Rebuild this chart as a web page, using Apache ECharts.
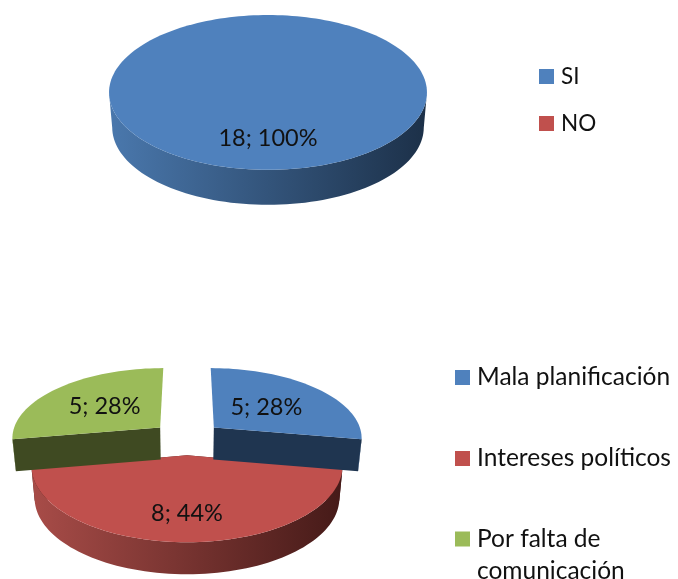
<!DOCTYPE html>
<html>
	<head>
		<meta charset="utf-8">
		<title>Pie charts</title>
		<script src="https://cdn.jsdelivr.net/npm/echarts@6/dist/echarts.min.js"></script>
		<style type="text/css">
			html, body { margin: 0; padding: 0; background: #fff; }
			#main { width: 678px; height: 579px; }
		</style>
	</head>
	<body>
		<div id="main"></div>
		<script type="text/javascript">
			// data
			var topCategories = ['SI', 'NO'];
			var topValues = [18, 0];
			var bottomCategories = ['Mala planificación', 'Intereses políticos', 'Por falta de comunicación'];
			var bottomValues = [5, 8, 5];

			var palette = [
				{ top: '#4f81bd', wall: '#1f3550', from: '#4a78ad', to: '#1c3048' },
				{ top: '#c0504d', wall: '#4a1c1a', from: '#a84c48', to: '#451a18' },
				{ top: '#9bbb59', wall: '#3f4a22', from: '#7f9a48', to: '#3f4a22' }
			];

			// pie placement: ry is the plane height, p the perspective, gap the explode distance
			var topPie = { cx: 268, cy: 82, rx: 157.5, ry: 76, p: 0.135, gap: 0, depth: 35, labelR: [0.66, 0] };
			var bottomPie = { cx: 187, cy: 438, rx: 149, ry: 70, p: 0.135, gap: 0.24, depth: 32, labelR: [0.5, 0.69, 0.53] };

			var FONT = 'Lato, "Open Sans", sans-serif';
			var STEP = Math.PI / 90;

			function project(pie, u, v) {
				var w = 1 + pie.p * v;
				return [pie.cx + pie.rx * u / w, pie.cy - pie.ry * v / w];
			}

			// point of a slice, theta runs clockwise from 12 o'clock
			function slicePoint(pie, mid, r, theta) {
				var u = pie.gap * Math.sin(mid) + r * Math.sin(theta);
				var v = pie.gap * Math.cos(mid) + r * Math.cos(theta);
				return project(pie, u, v);
			}

			function extrude(pie, pt) {
				return [pie.cx + (pt[0] - pie.cx) * 0.98, pt[1] + pie.depth];
			}

			function quad(pie, a, b, color) {
				return {
					type: 'polygon',
					shape: { points: [a, b, extrude(pie, b), extrude(pie, a)] },
					style: { fill: color }
				};
			}

			function sliceRenderer(pie, values, index) {
				return function(params, api) {
					var value = api.value(0);
					if (!value) return null;
					var total = values.reduce(function(a, b) { return a + b; }, 0);
					var before = values.slice(0, index).reduce(function(a, b) { return a + b; }, 0);
					var start = before / total * Math.PI * 2;
					var end = (before + value) / total * Math.PI * 2;
					var mid = (start + end) / 2;
					var colors = palette[index];
					var whole = value === total;
					var gap = whole ? 0 : pie.gap;
					var slice = { cx: pie.cx, cy: pie.cy, rx: pie.rx, ry: pie.ry, p: pie.p, gap: gap, depth: pie.depth };

					var rim = [];
					var front = [];
					for (var t = start; t < end; t += STEP) {
						var pt = slicePoint(slice, mid, 1, t);
						rim.push(pt);
						if (Math.cos(t) < -pie.p) front.push(pt);
					}
					var last = slicePoint(slice, mid, 1, end);
					rim.push(last);
					if (Math.cos(end) < -pie.p) front.push(last);

					var children = [];
					var apex = slicePoint(slice, mid, 0, 0);
					if (!whole) {
						// only the cut faces turned to the viewer
						if (Math.cos(start) < 0) children.push(quad(slice, apex, rim[0], colors.wall));
						if (Math.cos(end) < 0) children.push(quad(slice, apex, last, colors.wall));
					}
					if (front.length > 1) {
						children.push({
							type: 'polygon',
							shape: { points: front.concat(front.map(function(p) { return extrude(slice, p); }).reverse()) },
							style: {
								fill: new echarts.graphic.LinearGradient(0, 0, 1, 0, [
									{ offset: 0, color: colors.from },
									{ offset: 1, color: colors.to }
								])
							}
						});
					}
					children.push({
						type: 'polygon',
						shape: { points: whole ? rim : [apex].concat(rim) },
						style: { fill: colors.top }
					});
					var labelAt = slicePoint(slice, mid, pie.labelR[index], mid);
					children.push({
						type: 'text',
						x: labelAt[0],
						y: labelAt[1] + 1,
						style: {
							text: value + '; ' + Math.round(value / total * 100) + '%',
							fill: '#111',
							font: '23.5px ' + FONT,
							align: 'center',
							verticalAlign: 'middle'
						}
					});
					return { type: 'group', children: children };
				};
			}

			function buildSeries(pie, names, values) {
				var total = values.reduce(function(a, b) { return a + b; }, 0);
				var before = 0;
				return names.map(function(name, i) {
					var mid = (before + values[i] / 2) / total * Math.PI * 2;
					before += values[i];
					return {
						type: 'custom',
						name: name,
						coordinateSystem: 'none',
						silent: true,
						animation: false,
						// slices further back go on top here, the walls cover the front slice edge
						z: 2 + Math.cos(mid),
						itemStyle: { color: palette[i].top },
						data: [[values[i]]],
						renderItem: sliceRenderer(pie, values, i)
					};
				});
			}

			function legendAt(names, left, top, gap, size) {
				return {
					data: names,
					orient: 'vertical',
					left: left,
					top: top,
					padding: 0,
					itemGap: gap,
					itemWidth: 15,
					itemHeight: 15,
					icon: 'rect',
					selectedMode: false,
					textStyle: { fontFamily: FONT, fontSize: size, color: '#111', padding: [0, 0, 0, 2] }
				};
			}

			var myChart = echarts.init(document.getElementById('main'));
			var thirdLegend = legendAt([bottomCategories[2]], 455, 491, 0, 24.5);
			thirdLegend.textStyle.lineHeight = 32;
			thirdLegend.formatter = function() { return ' \nPor falta de\ncomunicación'; };

			myChart.setOption({
				animation: false,
				backgroundColor: '#fff',
				legend: [
					legendAt(topCategories, 539, 65, 24, 22.5),
					legendAt(bottomCategories.slice(0, 2), 455, 365, 56, 24.5),
					thirdLegend
				],
				series: buildSeries(topPie, topCategories, topValues)
					.concat(buildSeries(bottomPie, bottomCategories, bottomValues))
			});
		</script>
	</body>
</html>
